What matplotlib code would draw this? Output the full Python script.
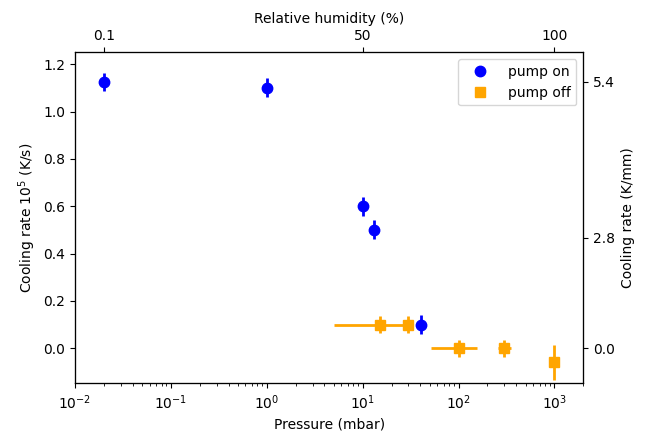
import numpy as np
import matplotlib
matplotlib.use("Agg")
import matplotlib.pyplot as plt
from matplotlib.ticker import NullLocator

# pump on
p_on = [0.02, 1.0, 10.0, 13.2, 41.0]
rate_on = [1.125, 1.10, 0.60, 0.50, 0.10]
rate_on_err = [0.04, 0.04, 0.04, 0.04, 0.04]

# pump off
p_off = [15.0, 30.0, 100.0, 300.0, 1000.0]
rate_off = [0.10, 0.10, 0.0, 0.0, -0.06]
rate_off_err = [0.035, 0.035, 0.035, 0.035, 0.072]
p_off_err_lo = [10.0, 3.0, 48.0, 45.0, 0.0]
p_off_err_hi = [15.0, 3.0, 55.0, 55.0, 0.0]

# secondary axes
rh_pos = [0.02, 10.0, 1000.0]
rh_labels = ["0.1", "50", "100"]
kmm_pos = [0.0, 0.467, 1.125]
kmm_labels = ["0.0", "2.8", "5.4"]

fig = plt.figure(figsize=(6.51, 4.33), dpi=100)
ax = fig.add_axes([0.1152, 0.1148, 0.896 - 0.1152, 0.879 - 0.1148])

ax.errorbar(p_on, rate_on, yerr=rate_on_err, fmt="none", ecolor="blue", elinewidth=2)
ax.plot(p_on, rate_on, "o", color="blue", markersize=7.5, label="pump on")
ax.errorbar(p_off, rate_off, yerr=rate_off_err, xerr=[p_off_err_lo, p_off_err_hi],
            fmt="none", ecolor="orange", elinewidth=2)
ax.plot(p_off, rate_off, "s", color="orange", markersize=7.5, label="pump off")

ax.set_xscale("log")
ax.set_xlim(1e-2, 2e3)
ax.set_ylim(-0.148, 1.25)
ax.set_xlabel("Pressure (mbar)")
ax.set_ylabel("Cooling rate $10^5$ (K/s)")
ax.legend(loc="upper right", handlelength=2.4)

ax_r = ax.twinx()
ax_r.set_ylim(ax.get_ylim())
ax_r.set_yticks(kmm_pos)
ax_r.set_yticklabels(kmm_labels)
ax_r.set_ylabel("Cooling rate (K/mm)")

ax_t = ax.twiny()
ax_t.set_xscale("log")
ax_t.set_xlim(ax.get_xlim())
ax_t.set_xticks(rh_pos)
ax_t.set_xticklabels(rh_labels)
ax_t.xaxis.set_minor_locator(NullLocator())
ax_t.set_xlabel("Relative humidity (%)")

fig.savefig("out.png", dpi=100)
